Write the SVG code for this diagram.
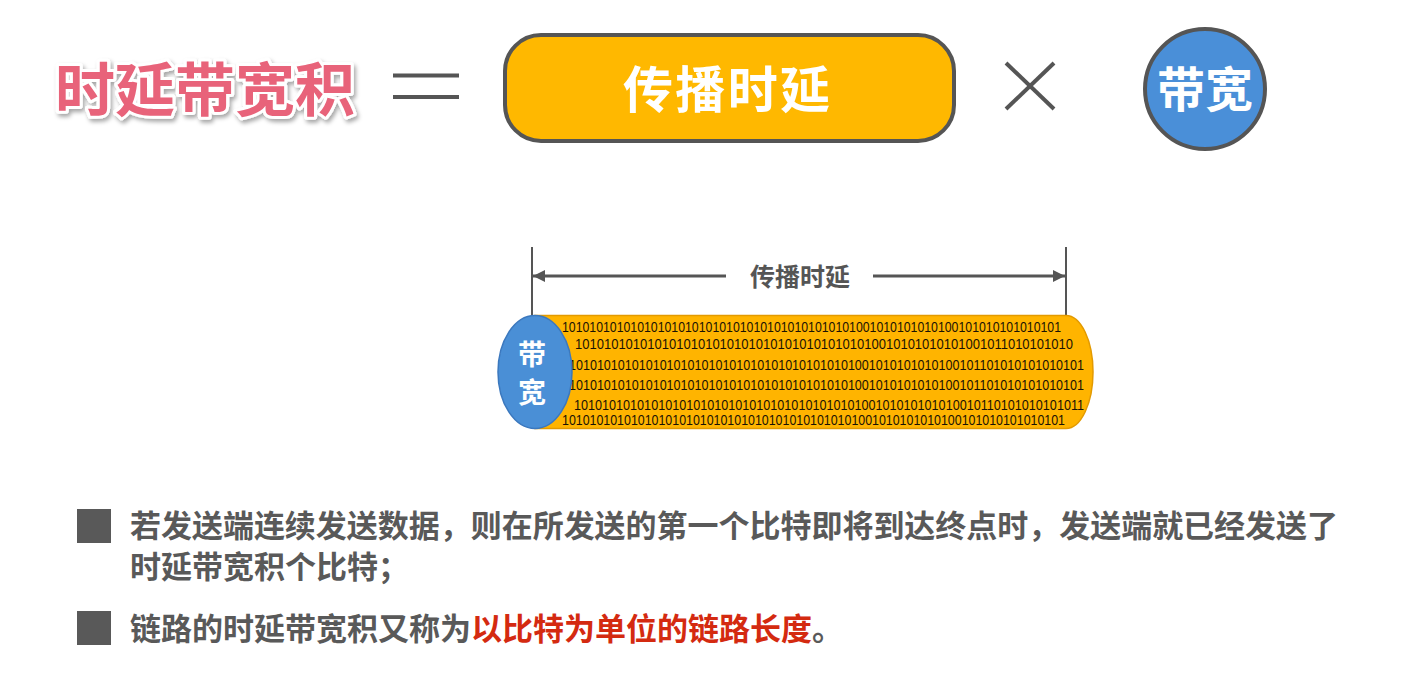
<svg xmlns="http://www.w3.org/2000/svg" width="1428" height="683" viewBox="0 0 1428 683">
  <defs>
    <style>
      .cjk { font-family: "Noto Sans CJK SC", "Noto Sans", sans-serif; font-weight: 700; }
      .gray { fill: #555555; }
      .white { fill: #ffffff; }
      .bits { font-family: "Liberation Sans", Arial, sans-serif; font-size: 15px; fill: #1a1204; }
      .ln { stroke: #555555; fill: none; }
      .body { font-size: 31px; fill: #595959; }
      .red { fill: #D42A10; }
    </style>
    <filter id="shadow" x="-10%" y="-20%" width="120%" height="150%">
      <feDropShadow dx="2" dy="3" stdDeviation="2" flood-color="#000000" flood-opacity="0.35"/>
    </filter>
    <marker id="arr" viewBox="0 0 10 10" refX="10" refY="5" markerWidth="4" markerHeight="4" orient="auto-start-reverse" markerUnits="strokeWidth">
      <path d="M0,0 L10,5 L0,10 Z" fill="#555555"/>
    </marker>
  </defs>
  <rect width="1428" height="683" fill="#ffffff"/>

  <g id="title">
    <text x="55" y="111" class="cjk" font-size="58" textLength="300" lengthAdjust="spacingAndGlyphs" fill="#E8637A" stroke="#ffffff" stroke-width="6" stroke-linejoin="round" paint-order="stroke" filter="url(#shadow)">时延带宽积</text>
  </g>

  <g id="equals">
    <line x1="393" y1="75.5" x2="459" y2="75.5" class="ln" stroke-width="4"/>
    <line x1="393" y1="97" x2="459" y2="97" class="ln" stroke-width="4"/>
  </g>

  <g id="prop-delay-box">
    <rect x="505" y="35" width="449" height="106" rx="36" ry="36" fill="#FFB800" stroke="#555555" stroke-width="4"/>
    <text x="623" y="108" class="cjk white" font-size="50" textLength="207" lengthAdjust="spacing">传播时延</text>
  </g>

  <g id="times">
    <line x1="1006" y1="63" x2="1054" y2="109" class="ln" stroke-width="4"/>
    <line x1="1054" y1="63" x2="1006" y2="109" class="ln" stroke-width="4"/>
  </g>

  <g id="bandwidth-circle">
    <circle cx="1205" cy="89" r="60" fill="#4A8FD8" stroke="#555555" stroke-width="4"/>
    <text x="1205" y="107" class="cjk white" font-size="48" text-anchor="middle">带宽</text>
  </g>

  <g id="connectors">
    <line x1="532" y1="247" x2="532" y2="316" class="ln" stroke-width="2"/>
    <line x1="1066" y1="247" x2="1066" y2="316" class="ln" stroke-width="2"/>
    <line x1="533" y1="276" x2="726" y2="276" class="ln" stroke-width="3" marker-start="url(#arr)"/>
    <line x1="873" y1="276" x2="1065" y2="276" class="ln" stroke-width="3" marker-end="url(#arr)"/>
  </g>

  <g id="dim-label">
    <text x="800" y="286" class="cjk gray" font-size="25" text-anchor="middle">传播时延</text>
  </g>

  <g id="link-cylinder">
    <path d="M535 315.5 H1066 A27 56.5 0 0 1 1066 428.5 H535 Z" fill="#FFB400" stroke="#E39A00" stroke-width="1.5"/>
    <text class="bits" x="562" y="332" textLength="499" lengthAdjust="spacingAndGlyphs">1010101010101010101010101010101010101010101001010101010100101010101010101</text>
    <text class="bits" x="575" y="348.5" textLength="498" lengthAdjust="spacingAndGlyphs">101010101010101010101010101010101010101010010101010101001011010101010</text>
    <text class="bits" x="569" y="370" textLength="515" lengthAdjust="spacingAndGlyphs">10101010101010101010101010101010101010101001010101010100101101010101010101</text>
    <text class="bits" x="569" y="390" textLength="515" lengthAdjust="spacingAndGlyphs">10101010101010101010101010101010101010101001010101010100101101010101010101</text>
    <text class="bits" x="574" y="409.5" textLength="510" lengthAdjust="spacingAndGlyphs">1010101010101010101010101010101010101010100101010101010010110101010101011</text>
    <text class="bits" x="562" y="424.5" textLength="503" lengthAdjust="spacingAndGlyphs">1010101010101010101010101010101010101010101001010101010100101010101010101</text>
  </g>

  <g id="bandwidth-ellipse">
    <ellipse cx="535" cy="372" rx="37" ry="56.5" fill="#4A8FD6" stroke="#3B78BE" stroke-width="1.5"/>
    <text x="532" y="365" class="cjk white" font-size="28" text-anchor="middle">带</text>
    <text x="532" y="403" class="cjk white" font-size="28" text-anchor="middle">宽</text>
  </g>

  <g id="bullet-1">
    <rect x="77" y="509" width="34" height="34" fill="#595959"/>
    <text x="130" y="537" class="cjk body" textLength="1208" lengthAdjust="spacingAndGlyphs">若发送端连续发送数据，则在所发送的第一个比特即将到达终点时，发送端就已经发送了</text>
    <text x="130" y="578" class="cjk body">时延带宽积个比特；</text>
  </g>

  <g id="bullet-2">
    <rect x="77" y="611" width="34" height="34" fill="#595959"/>
    <text x="130" y="640" class="cjk body">链路的时延带宽积又称为<tspan class="red">以比特为单位的链路长度</tspan>。</text>
  </g>
</svg>
